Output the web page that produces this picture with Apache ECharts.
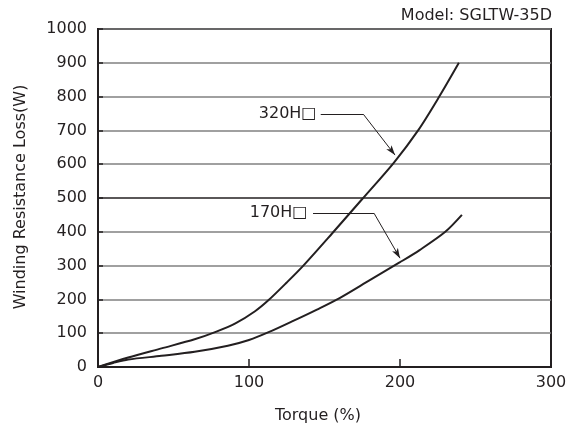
<!DOCTYPE html>
<html>
<head>
<meta charset="utf-8">
<script src="https://cdn.jsdelivr.net/npm/echarts@6/dist/echarts.min.js"></script>
<style>
html,body{margin:0;padding:0;background:#fff;}
#chart{width:571px;height:430px;}
</style>
</head>
<body>
<div id="chart"></div>
<script>
// Data
var torque320 = [0, 20, 42, 64, 78, 91, 104, 113, 125, 136, 155, 175, 196, 212, 226, 239];
var loss320   = [0, 28, 55, 82, 104, 129, 165, 198, 250, 300, 395, 497, 605, 700, 800, 900];
var torque170 = [0, 10, 20, 42, 64, 86, 100, 113, 130, 145, 160, 180, 200, 213, 230, 241];
var loss170   = [0, 12, 22, 33, 45, 63, 80, 103, 138, 170, 204, 257, 310, 346, 400, 450];
var xTicks = [0, 100, 200, 300];
var yTicks = [0, 100, 200, 300, 400, 500, 600, 700, 800, 900, 1000];
var label320 = '320H\u25A1';
var label170 = '170H\u25A1';
var leader320 = [[147.5, 748], [175.7, 748], [196.7, 627]];
var leader170 = [[142.4, 455], [182.8, 455], [200, 322]];
var modelText = 'Model: SGLTW-35D';
var xName = 'Torque (%)';
var yName = 'Winding Resistance Loss(W)';

function zip(a, b) { return a.map(function (v, i) { return [v, b[i]]; }); }

var ink = '#231f20';
var FONT = 'DejaVu Sans';
var gridColors = yTicks.map(function (v) { return v === 500 ? ink : '#808080'; });

function leaderLines(pts) {
  return [
    [{ coord: pts[0], symbol: 'none' }, { coord: pts[1], symbol: 'none' }],
    [{ coord: pts[1], symbol: 'none' }, { coord: pts[2], symbol: 'arrow', symbolSize: [5, 10] }]
  ];
}

var chart = echarts.init(document.getElementById('chart'), null, { renderer: 'canvas' });
chart.setOption({
  animation: false,
  backgroundColor: '#fff',
  textStyle: { fontFamily: FONT },
  grid: { left: 98, right: 20, top: 29, bottom: 63, show: true, borderColor: ink, borderWidth: 2, backgroundColor: 'transparent' },
  xAxis: {
    type: 'value', min: 0, max: 300, interval: 100,
    axisLine: { show: true, lineStyle: { color: ink, width: 2 } },
    axisTick: { show: true, inside: true, length: 8, lineStyle: { color: ink, width: 1.5 } },
    axisLabel: { color: ink, fontSize: 16, margin: 8, fontFamily: FONT,
      formatter: function (v) { return xTicks.indexOf(v) >= 0 ? String(v) : ''; } },
    splitLine: { show: false }
  },
  yAxis: {
    type: 'value', min: 0, max: 1000, interval: 100,
    axisLine: { show: true, lineStyle: { color: ink, width: 2 } },
    axisTick: { show: true, inside: true, length: 5, lineStyle: { color: ink, width: 1.5 } },
    axisLabel: { color: ink, fontSize: 16, margin: 11, fontFamily: FONT,
      formatter: function (v) { return yTicks.indexOf(v) >= 0 ? String(v) : ''; } },
    splitLine: { show: true, lineStyle: { color: gridColors, width: 1.5 } }
  },
  graphic: [
    { type: 'text', right: 19, top: 8, style: { text: modelText, fill: ink, font: '16px ' + FONT } },
    { type: 'text', x: 318, y: 416,
      style: { text: xName, fill: ink, font: '16px ' + FONT, align: 'center', verticalAlign: 'middle' } },
    { type: 'text', x: 20.5, y: 197, rotation: Math.PI / 2,
      style: { text: yName, fill: ink, font: '16px ' + FONT, align: 'center', verticalAlign: 'middle' } }
  ],
  series: [
    {
      type: 'line', data: zip(torque320, loss320), smooth: 0.3, showSymbol: false,
      lineStyle: { color: ink, width: 2 }, z: 5,
      markLine: {
        silent: true, animation: false,
        lineStyle: { color: ink, width: 1, type: 'solid' },
        label: { show: false },
        data: leaderLines(leader320)
      },
      markPoint: {
        symbol: 'circle', symbolSize: 0, silent: true,
        label: { show: true, position: 'left', distance: 2, color: ink, fontSize: 16, fontFamily: FONT, formatter: label320 },
        data: [{ coord: [146, 748] }]
      }
    },
    {
      type: 'line', data: zip(torque170, loss170), smooth: 0.3, showSymbol: false,
      lineStyle: { color: ink, width: 2 }, z: 5,
      markLine: {
        silent: true, animation: false,
        lineStyle: { color: ink, width: 1, type: 'solid' },
        label: { show: false },
        data: leaderLines(leader170)
      },
      markPoint: {
        symbol: 'circle', symbolSize: 0, silent: true,
        label: { show: true, position: 'left', distance: 2, color: ink, fontSize: 16, fontFamily: FONT, formatter: label170 },
        data: [{ coord: [140, 455] }]
      }
    }
  ]
});
</script>
</body>
</html>
